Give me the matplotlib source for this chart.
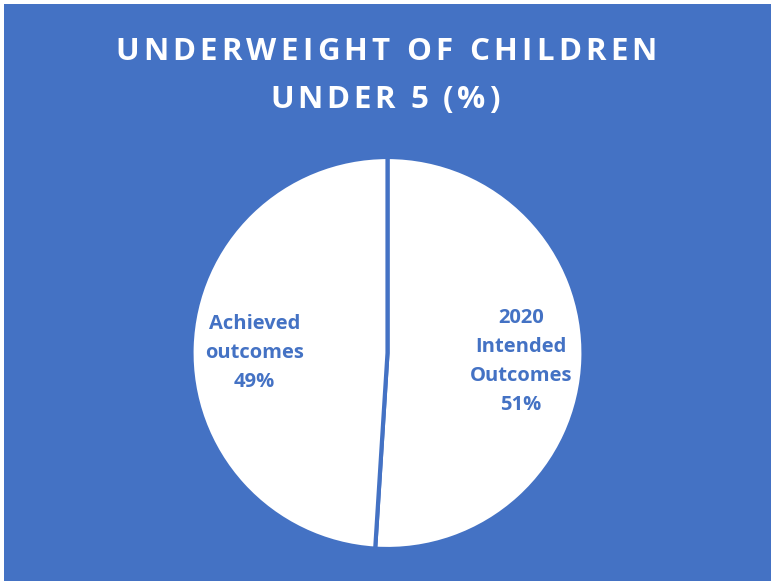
import matplotlib
matplotlib.use("Agg")
import matplotlib.pyplot as plt
from matplotlib.patches import Rectangle
import numpy as np

# Chart data
categories = ["2020\nIntended\nOutcomes", "Achieved\noutcomes"]
values = [51, 49]
title_lines = ["UNDERWEIGHT OF CHILDREN", "UNDER 5 (%)"]

BLUE = "#4472C4"
W, H = 772, 581

plt.rcParams["font.family"] = ["Open Sans", "DejaVu Sans"]

fig = plt.figure(figsize=(W / 100, H / 100), dpi=100)
fig.patch.set_facecolor("white")

# Blue chart area (thin white margin on top and left)
fig.patches.append(Rectangle((4 / W, 0), (W - 5) / W, (H - 4) / H,
                             transform=fig.transFigure, facecolor=BLUE,
                             edgecolor="none", zorder=0))

# Pie
cx, cy, r = 387.5, 353, 196
ax = fig.add_axes([(cx - r) / W, (H - cy - r) / H, 2 * r / W, 2 * r / H])
ax.set_zorder(2)
ax.set_facecolor("none")
wedges, _ = ax.pie(values, startangle=90, counterclock=False,
                   colors=["white", "white"],
                   wedgeprops=dict(edgecolor=BLUE, linewidth=3.0))
ax.set_xlim(-1.0, 1.0)
ax.set_ylim(-1.0, 1.0)
ax.set_aspect("equal")
ax.axis("off")

total = sum(values)
for w, cat, v in zip(wedges, categories, values):
    mid = np.deg2rad((w.theta1 + w.theta2) / 2)
    ax.text(0.68 * np.cos(mid), 0.68 * np.sin(mid) - 0.022,
            f"{cat}\n{round(100 * v / total)}%",
            ha="center", va="center", color=BLUE, fontsize=14.5,
            fontweight="bold", linespacing=1.6)

# Title with letter tracking
renderer = fig.canvas.get_renderer()


def text_width(s, size):
    t = fig.text(0, 0, s, fontsize=size, fontweight="bold")
    wpx = t.get_window_extent(renderer).width
    t.remove()
    return wpx


def advance(prefix, size):
    if not prefix:
        return 0.0
    return text_width(prefix + "H", size) - text_width("H", size)


def tracked(s, xc_px, base_px, size, spacing):
    advs = [advance(s[:i], size) for i in range(len(s) + 1)]
    total_w = advs[-1] + spacing * (len(s) - 1)
    x0 = xc_px - total_w / 2
    for i, ch in enumerate(s):
        if ch == " ":
            continue
        t = fig.text((x0 + advs[i] + spacing * i) / W, 1 - base_px / H, ch,
                     fontsize=size, fontweight="bold", color="white",
                     ha="left", va="baseline")
        t.set_zorder(3)


title_size = 22.5
natural = advance(title_lines[0], title_size)
spacing = (542 - natural) / (len(title_lines[0]) - 1)
tracked(title_lines[0], 386, 60, title_size, spacing)
tracked(title_lines[1], 385, 108, title_size, spacing * 0.85)

fig.savefig("out.png", dpi=100)
